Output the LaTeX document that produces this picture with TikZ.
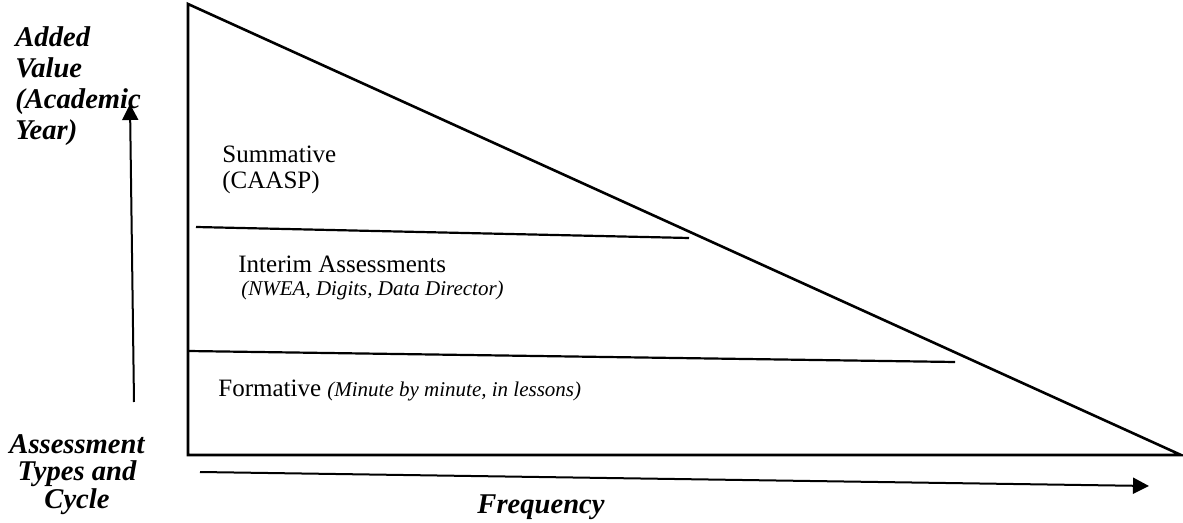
\documentclass[tikz,border=0pt]{standalone}
\usepackage{fontspec}
\setmainfont{Liberation Serif}
\usetikzlibrary{arrows.meta,positioning}

\newcommand{\aside}[1]{{\fontsize{10.5}{12}\selectfont\itshape #1}}

\tikzset{
  edge/.style={line width=1.3pt,line join=miter},
  divider/.style={line width=1.1pt},
  axis/.style={line width=1pt,-{Triangle[length=8pt,width=8pt]}},
  band/.style={inner sep=0pt,anchor=base west,align=left,
    font=\fontsize{12.5}{13}\selectfont},
  axislabel/.style={inner sep=0pt,font=\fontsize{14.3}{15.5}\selectfont\bfseries\itshape}
}

\begin{document}
\begin{tikzpicture}[x=0.5pt,y=-0.5pt]
\useasboundingbox (0,0) rectangle (1183,523);

% the triangle
\coordinate (apex) at (188,4);
\coordinate (corner) at (188,455);
\coordinate (tip) at (1181,455);
\draw[edge] (apex) -- (corner) -- (tip) -- cycle;

% the bands
\coordinate (s1) at (196,227);
\coordinate (e1) at (689,238);
\coordinate (s2) at (188,351);
\coordinate (e2) at (955,362);
\foreach \i in {1,2} {
\draw[divider] (s\i) -- (e\i);
}

% base of a multi-line node = its last line
\node (summ) [band] at (222,189) {Summative\\(CAASP)};
\node (inter) [band] at (238,273) {Interim Assessments};
\node (interx) [band] at (241,296) {\aside{(NWEA, Digits, Data Director)}};
\node (form) [band] at (218,397) {Formative \aside{(Minute by minute, in lessons)}};

% the axes
\coordinate (vbot) at (134,402);
\coordinate (vtop) at (130,104);
\draw[axis] (vbot) -- (vtop);
\coordinate (hbeg) at (200,472);
\coordinate (hend) at (1149,486);
\draw[axis] (hbeg) -- (hend);

\node (value) [axislabel,anchor=base west,align=left] at (15,140) {Added\\Value\\(Academic\\Year)};
\node (cycle) [axislabel,anchor=base,align=center,font=\fontsize{14.3}{14}\selectfont\bfseries\itshape] at (77,509) {Assessment\\Types and\\Cycle};
\node (freq) [axislabel,anchor=base] at (541,513) {Frequency};
\end{tikzpicture}
\end{document}
